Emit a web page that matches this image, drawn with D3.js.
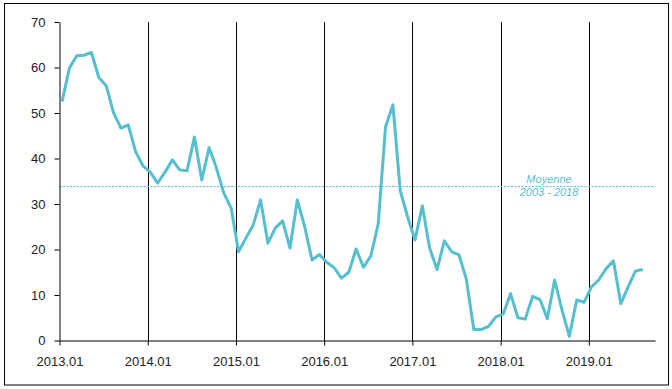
<!DOCTYPE html>
<html lang="fr">
<head>
<meta charset="utf-8">
<script src="https://cdnjs.cloudflare.com/ajax/libs/d3/7.8.5/d3.min.js"></script>
<style>
  body { margin: 0; background: #fff; }
  svg { display: block; font-family: "Liberation Sans", Arial, sans-serif; }
  .tick text { font-size: 13px; fill: #222; }
</style>
</head>
<body>
<svg id="chart" width="672" height="389"></svg>
<script>
// monthly values from 2013.01 to 2019.08
const values = [
  52.5, 59.9, 62.6, 62.7, 63.3, 57.8, 56.0, 50.1, 46.7, 47.4, 41.5, 38.4,
  37.0, 34.6, 37.0, 39.7, 37.5, 37.3, 44.7, 35.3, 42.4, 37.9, 32.4, 29.1,
  19.5, 22.5, 25.4, 30.9, 21.4, 24.7, 26.3, 20.3, 30.9, 25.0, 17.7, 18.9,
  17.2, 16.0, 13.7, 15.0, 20.1, 16.1, 18.6, 25.6, 47.0, 51.8, 32.9, 27.2,
  22.1, 29.6, 20.3, 15.6, 21.9, 19.5, 18.8, 13.4, 2.4, 2.4, 3.1, 5.2,
  5.8, 10.3, 5.0, 4.7, 9.7, 9.0, 4.8, 13.3, 6.7, 0.9, 8.9, 8.4,
  11.8, 13.3, 15.8, 17.5, 8.1, 11.8, 15.3, 15.6
];
const yearTicks = [0, 12, 24, 36, 48, 60, 72];
const yearLabels = ["2013.01", "2014.01", "2015.01", "2016.01", "2017.01", "2018.01", "2019.01"];
const yTicks = [0, 10, 20, 30, 40, 50, 60, 70];
const moyenne = 33.9;
const moyenneLabel = ["Moyenne", "2003 - 2018"];

const teal = "#55bfcf";
const svg = d3.select("#chart");

// outer frame
svg.append("rect")
  .attr("x", 4.5).attr("y", 3.5)
  .attr("width", 664).attr("height", 381.5)
  .attr("fill", "none").attr("stroke", "#000").attr("stroke-width", 1);

const x = d3.scaleLinear().domain([0, 81]).range([59.5, 655]);
const y = d3.scaleLinear().domain([0, 70]).range([340.5, 22]);

// year separators
svg.append("g")
  .selectAll("line")
  .data(yearTicks.slice(1))
  .join("line")
  .attr("x1", d => Math.round(x(d)) + 0.5)
  .attr("x2", d => Math.round(x(d)) + 0.5)
  .attr("y1", y(70))
  .attr("y2", y(0))
  .attr("stroke", "#000");

// average line
svg.append("line")
  .attr("x1", x(0)).attr("x2", x(81))
  .attr("y1", Math.round(y(moyenne)) + 0.5)
  .attr("y2", Math.round(y(moyenne)) + 0.5)
  .attr("stroke", teal)
  .attr("stroke-width", 1)
  .attr("stroke-dasharray", "2,1.5");

svg.append("g")
  .selectAll("text")
  .data(moyenneLabel)
  .join("text")
  .attr("x", 549)
  .attr("y", (d, i) => y(moyenne) - 3 + i * 13)
  .attr("text-anchor", "middle")
  .attr("font-size", 11)
  .attr("font-style", "italic")
  .attr("fill", teal)
  .text(d => d);

// axes
const yAxis = svg.append("g")
  .attr("transform", "translate(59.5,0)")
  .call(d3.axisLeft(y).tickValues(yTicks).tickSize(5).tickSizeOuter(0).tickPadding(9));
const xAxis = svg.append("g")
  .attr("transform", "translate(0,340.5)")
  .call(d3.axisBottom(x).tickValues(yearTicks).tickSize(5).tickSizeOuter(0).tickPadding(11)
    .tickFormat((d, i) => yearLabels[i]));
[yAxis, xAxis].forEach(g => {
  g.selectAll("path, line").attr("stroke", "#000");
  g.attr("font-family", null).attr("font-size", null);
});

// series
svg.append("path")
  .datum(values)
  .attr("fill", "none")
  .attr("stroke", teal)
  .attr("stroke-width", 3)
  .attr("stroke-linejoin", "round")
  .attr("d", d3.line().x((d, i) => x(i + 0.35)).y(d => y(d)));
</script>
</body>
</html>
